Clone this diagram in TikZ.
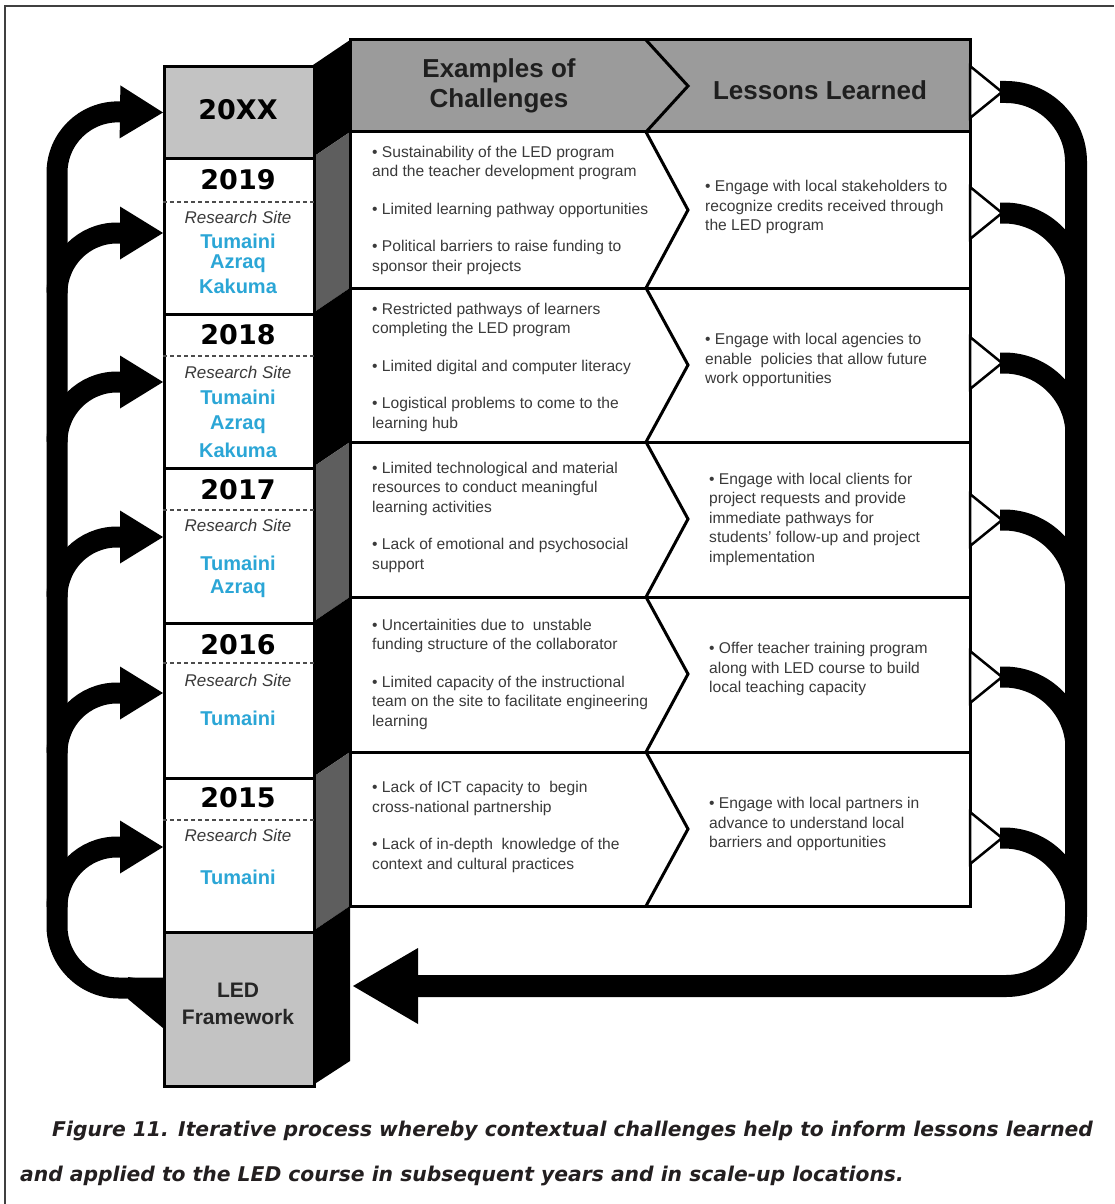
\documentclass[tikz,border=0pt]{standalone}
\usepackage{fontspec}
\setmainfont{Liberation Sans}
\newfontfamily\yearfont{DejaVu Sans}
\usetikzlibrary{arrows.meta, positioning, calc}
\definecolor{boxgray}{HTML}{C3C3C3}
\definecolor{headgray}{HTML}{9B9B9B}
\definecolor{sidegray}{HTML}{5E5E5E}
\definecolor{siteblue}{HTML}{2BA6D6}
\definecolor{textgray}{HTML}{3A3A3A}
\definecolor{captiondark}{HTML}{231F20}

\begin{document}
\begin{tikzpicture}[x=1pt, y=-1pt,
    yearbox/.style={draw=black, line width=3pt, minimum width=150pt, inner sep=0pt, anchor=north west},
    yeartext/.style={font=\fontsize{27}{27}\selectfont\yearfont\bfseries},
    sitelabel/.style={font=\fontsize{17}{17}\selectfont\itshape, text=textgray},
    sitename/.style={font=\fontsize{20}{20}\selectfont\bfseries, text=siteblue},
    sitesep/.style={dashed, dash pattern=on 4pt off 3pt, line width=1.5pt, black!70},
    rule/.style={line width=3pt, line join=miter},
    cell/.style={anchor=west, align=left, inner sep=0pt, text=textgray, font=\fontsize{15.6}{19.5}\selectfont},
    headtext/.style={font=\fontsize{26}{30}\selectfont\bfseries, text=black!88, align=center},
    captext/.style={anchor=base west, inner sep=0pt, text=captiondark, font=\fontsize{20.3}{21}\selectfont\yearfont\bfseries\itshape},
    loopline/.style={line width=21pt},
    flow/.style={line width=21pt, -{Triangle[length=43pt, width=53pt, line width=0pt]}},
    bigflow/.style={line width=22pt, -{Triangle[length=65pt, width=76pt, line width=0pt]}}]
  \useasboundingbox (0,0) rectangle (1114,1204);

  % Marco de la figura
  \draw[line width=1.2pt, black!75] (5,1204) -- (5,6) -- (1114,6);

  % Caras laterales de la columna de años
  \fill[black] (313,65) -- (350,40) -- (350,132) -- (313,157) -- cycle;
  \fill[sidegray] (313,157) -- (350,132) -- (350,288) -- (313,313) -- cycle;
  \fill[black] (313,313) -- (350,288) -- (350,442) -- (313,467) -- cycle;
  \fill[sidegray] (313,467) -- (350,442) -- (350,597) -- (313,622) -- cycle;
  \fill[black] (313,622) -- (350,597) -- (350,752) -- (313,777) -- cycle;
  \fill[sidegray] (313,777) -- (350,752) -- (350,906) -- (313,931) -- cycle;
  \fill[black] (313,931) -- (350,906) -- (350,1061) -- (313,1085) -- cycle;

  % Columna de años
  \node[yearbox, fill=boxgray, minimum height=92pt] (y20xx) at (163,65) {};
  \node[yearbox, fill=white, minimum height=156pt] (y2019) at (163,157) {};
  \node[yearbox, fill=white, minimum height=154pt] (y2018) at (163,313) {};
  \node[yearbox, fill=white, minimum height=155pt] (y2017) at (163,467) {};
  \node[yearbox, fill=white, minimum height=155pt] (y2016) at (163,622) {};
  \node[yearbox, fill=white, minimum height=154pt] (y2015) at (163,777) {};
  \node[yearbox, fill=boxgray, minimum height=154pt] (led) at (163,931) {};

  \node[yeartext] (t20xx) at (238,110) {20XX};
  \node[font=\fontsize{21}{27}\selectfont\bfseries, text=black!85, align=center] (tled) at (238,1004) {LED\\Framework};

  % 2019
  \node[yeartext] (t2019) at (238,180) {2019};
  \draw[sitesep] (y2019.west |- 0,202) -- (y2019.east |- 0,202);
  \node[sitelabel] (r2019) at (238,217) {Research Site};
  \node[sitename] (s2019a) at (238,241) {Tumaini};
  \node[sitename] (s2019b) at (238,264) {Azraq};
  \node[sitename] (s2019c) at (238,286) {Kakuma};
  % 2018
  \node[yeartext] (t2018) at (238,335) {2018};
  \draw[sitesep] (y2018.west |- 0,356) -- (y2018.east |- 0,356);
  \node[sitelabel] (r2018) at (238,372) {Research Site};
  \node[sitename] (s2018a) at (238,397) {Tumaini};
  \node[sitename] (s2018b) at (238,425) {Azraq};
  \node[sitename] (s2018c) at (238,450) {Kakuma};
  % 2017
  \node[yeartext] (t2017) at (238,490) {2017};
  \draw[sitesep] (y2017.west |- 0,510) -- (y2017.east |- 0,510);
  \node[sitelabel] (r2017) at (238,525) {Research Site};
  \node[sitename] (s2017a) at (238,563) {Tumaini};
  \node[sitename] (s2017b) at (238,589) {Azraq};
  % 2016
  \node[yeartext] (t2016) at (238,645) {2016};
  \draw[sitesep] (y2016.west |- 0,663) -- (y2016.east |- 0,663);
  \node[sitelabel] (r2016) at (238,680) {Research Site};
  \node[sitename] (s2016a) at (238,718) {Tumaini};
  % 2015
  \node[yeartext] (t2015) at (238,798) {2015};
  \draw[sitesep] (y2015.west |- 0,820) -- (y2015.east |- 0,820);
  \node[sitelabel] (r2015) at (238,835) {Research Site};
  \node[sitename] (s2015a) at (238,877) {Tumaini};

  % Tabla de retos y lecciones
  \fill[headgray] (350,40) rectangle (970,132);
  \fill[white] (350,132) rectangle (970,906);
  \draw[rule] (350,132) -- (970,132);
  \draw[rule] (350,288) -- (970,288);
  \draw[rule] (350,442) -- (970,442);
  \draw[rule] (350,597) -- (970,597);
  \draw[rule] (350,752) -- (970,752);
  \draw[rule] (350,40) rectangle (970,906);
  \draw[rule] (646,40) -- (688,86) -- (646,132) -- (688,210) -- (646,288) -- (688,365) -- (646,442)
    -- (688,519) -- (646,597) -- (688,674) -- (646,752) -- (688,829) -- (646,906);

  \node[headtext] (hch) at (499,86) {Examples of\\Challenges};
  \node[headtext] (hll) at (820,90) {Lessons Learned};

  \node[cell] (c2019) at (372,210) {• Sustainability of the LED program\\and the teacher development program\\[18pt]• Limited learning pathway opportunities\\[18pt]• Political barriers to raise funding to\\sponsor their projects};
  \node[cell] (l2019) at (705,207) {• Engage with local stakeholders to\\recognize credits received through\\the LED program};
  \node[cell] (c2018) at (372,367) {• Restricted pathways of learners\\completing the LED program\\[18pt]• Limited digital and computer literacy\\[18pt]• Logistical problems to come to the\\learning hub};
  \node[cell] (l2018) at (705,360) {• Engage with local agencies to\\enable\ \ policies that allow future\\work opportunities};
  \node[cell] (c2017) at (372,517) {• Limited technological and material\\resources to conduct meaningful\\learning activities\\[18pt]• Lack of emotional and psychosocial\\support};
  \node[cell] (l2017) at (709,519) {• Engage with local clients for\\project requests and provide\\immediate pathways for\\students' follow-up and project\\implementation};
  \node[cell] (c2016) at (372,674) {• Uncertainities due to\ \ unstable\\funding structure of the collaborator\\[18pt]• Limited capacity of the instructional\\team on the site to facilitate engineering\\learning};
  \node[cell] (l2016) at (709,669) {• Offer teacher training program\\along with LED course to build\\local teaching capacity};
  \node[cell] (c2015) at (372,827) {• Lack of ICT capacity to\ \ begin\\cross-national partnership\\[18pt]• Lack of in-depth\ \ knowledge of the\\context and cultural practices};
  \node[cell] (l2015) at (709,824) {• Engage with local partners in\\advance to understand local\\barriers and opportunities};

  % Retorno por la derecha
  \coordinate (ledside) at (353,986);
  \draw[loopline, rounded corners=72pt] (1000,213) -| (1076,300);
  \draw[loopline, rounded corners=72pt] (1000,363) -| (1076,450);
  \draw[loopline, rounded corners=72pt] (1000,520) -| (1076,610);
  \draw[loopline, rounded corners=72pt] (1000,677) -| (1076,770);
  \draw[loopline, rounded corners=72pt] (1000,838) -| (1076,930);
  \draw[bigflow, rounded corners=70pt] (1000,92) -| (1076,986) -- (ledside);
  \foreach \ty in {92,213,363,520,677,838}
    \draw[line width=2.5pt, fill=white, line join=miter] (970,\ty-26) -- (1002,\ty) -- (970,\ty+26) -- cycle;

  % Salida del marco LED hacia cada año
  \coordinate (ledtail) at (163,988);
  \fill[black] (128,977) -- (163,982) -- (163,1028) -- (128,999) -- cycle;
  \draw[flow, rounded corners=62pt] (ledtail) -| (57,111) -- (y20xx.west);
  \draw[flow, rounded corners=60pt] (57,293) |- (y2019.west |- 0,233);
  \draw[flow, rounded corners=60pt] (57,442) |- (y2018.west |- 0,382);
  \draw[flow, rounded corners=60pt] (57,597) |- (y2017.west |- 0,537);
  \draw[flow, rounded corners=60pt] (57,753) |- (y2016.west |- 0,693);
  \draw[flow, rounded corners=60pt] (57,907) |- (y2015.west |- 0,847);

  % Pie de figura
  \node[captext] (cap1) at (52,1136) {Figure 11. Iterative process whereby contextual challenges help to inform lessons learned};
  \node[captext] (cap2) at (20,1181) {and applied to the LED course in subsequent years and in scale-up locations.};
\end{tikzpicture}
\end{document}
